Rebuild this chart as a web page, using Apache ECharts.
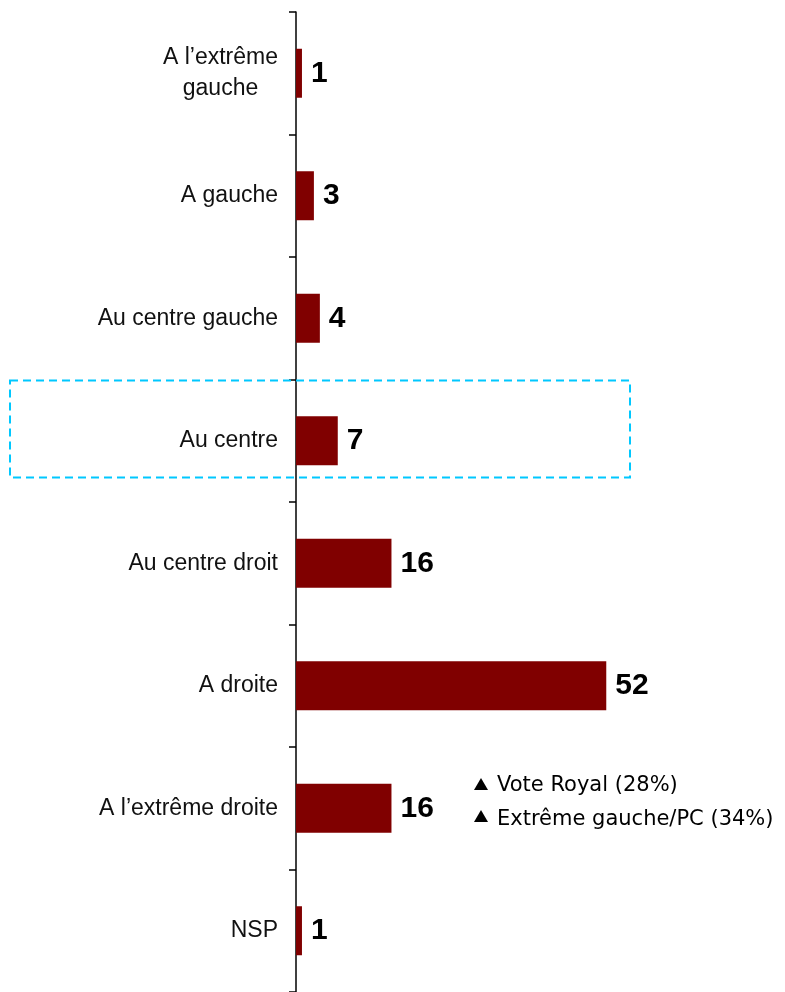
<!DOCTYPE html>
<html>
<head>
<meta charset="utf-8">
<script src="https://cdn.jsdelivr.net/npm/echarts@6/dist/echarts.min.js"></script>
<style>
html,body{margin:0;padding:0;background:#fff;}
#chart{width:785px;height:992px;}
</style>
</head>
<body>
<div id="chart"></div>
<script>
const categories = [
  'A l\u2019extrême\ngauche',
  'A gauche',
  'Au centre gauche',
  'Au centre',
  'Au centre droit',
  'A droite',
  'A l\u2019extrême droite',
  'NSP'
];
const values = [1, 3, 4, 7, 16, 52, 16, 1];
const noteLines = ['Vote Royal (28%)', 'Extrême gauche/PC (34%)'];

const catFont = '"Liberation Sans", Arial, sans-serif';
const chart = echarts.init(document.getElementById('chart'), null, {renderer: 'canvas'});
chart.setOption({
  animation: false,
  backgroundColor: '#ffffff',
  grid: {left: 296, right: 131, top: 12, bottom: 0, containLabel: false},
  xAxis: {
    type: 'value', min: 0, max: 60, show: false
  },
  yAxis: {
    type: 'category',
    data: categories,
    inverse: true,
    axisLine: {show: true, lineStyle: {color: '#000', width: 1.5}},
    axisTick: {show: true, length: 7, lineStyle: {color: '#000', width: 1.5}},
    splitLine: {show: false},
    axisLabel: {
      margin: 18,
      color: '#111',
      fontFamily: catFont,
      fontSize: 23,
      lineHeight: 31,
      formatter: function (v) {
        return v.split('\n').map(s => '{c|' + s + '}').join('\n');
      },
      rich: {
        c: {
          align: 'center',
          fontFamily: catFont,
          fontSize: 23,
          lineHeight: 31,
          color: '#111'
        }
      }
    }
  },
  series: [{
    type: 'bar',
    data: values,
    barWidth: 49,
    itemStyle: {color: '#800000'},
    label: {
      show: true,
      position: 'right',
      distance: 9,
      color: '#000',
      fontFamily: '"Liberation Sans", Arial, sans-serif',
      fontWeight: 'bold',
      fontSize: 30
    }
  }],
  graphic: [
    {
      type: 'rect',
      shape: {x: 10, y: 380.5, width: 620, height: 97},
      style: {fill: 'none', stroke: '#00c8ff', lineWidth: 2, lineDash: [8, 5]},
      z: 100
    },
    {
      type: 'polygon',
      shape: {points: [[474, 790], [488, 790], [481, 778]]},
      style: {fill: '#000'}
    },
    {
      type: 'text', left: 497, top: 775,
      style: {text: noteLines[0], fontFamily: '"DejaVu Sans", sans-serif', fontSize: 21, fill: '#000'}
    },
    {
      type: 'polygon',
      shape: {points: [[474, 822], [488, 822], [481, 810]]},
      style: {fill: '#000'}
    },
    {
      type: 'text', left: 497, top: 809,
      style: {text: noteLines[1], fontFamily: '"DejaVu Sans", sans-serif', fontSize: 21, fill: '#000'}
    }
  ]
});
</script>
</body>
</html>
